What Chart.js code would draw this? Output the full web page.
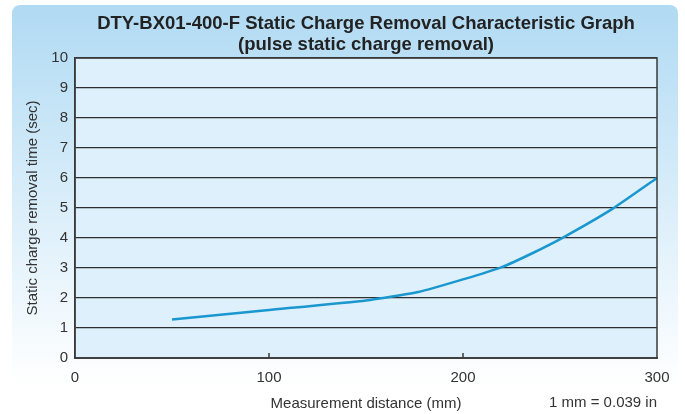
<!DOCTYPE html>
<html>
<head>
<meta charset="utf-8">
<script src="https://cdn.jsdelivr.net/npm/chart.js@4"></script>
<style>
  html, body { margin: 0; padding: 0; background: #fff; }
  #wrap { width: 685px; height: 414px; }
</style>
</head>
<body>
<div id="wrap"><canvas id="myChartLine" width="685" height="414"></canvas></div>
<script>
// values
let distance = [50, 100, 150, 177, 200, 220, 236, 252, 277, 300];
let removalTime = [1.28, 1.6, 1.92, 2.2, 2.62, 3.03, 3.5, 4.03, 4.97, 6.0];
let xTicks = [0, 100, 200, 300];
let yTicks = [0, 1, 2, 3, 4, 5, 6, 7, 8, 9, 10];
let titleLines = ["DTY-BX01-400-F Static Charge Removal Characteristic Graph", "(pulse static charge removal)"];

let points = distance.map((d, i) => ({ x: d, y: removalTime[i] }));
const FONT = "'Liberation Sans', Arial, sans-serif";

// blue panel behind the chart, plot fill, border, small inner ticks and texts
const panel = {
  id: "panel",
  beforeDraw(chart) {
    let c = chart.ctx, a = chart.chartArea;
    c.save();
    let g = c.createLinearGradient(0, 5, 0, 385);
    g.addColorStop(0, "#b0daf3");
    g.addColorStop(0.45, "#d4ebf9");
    g.addColorStop(1, "#ffffff");
    c.fillStyle = g;
    c.beginPath();
    c.roundRect(12, 5, 666, 409, 8);
    c.fill();
    c.fillStyle = "#def0fb";
    c.fillRect(a.left, a.top, a.right - a.left, a.bottom - a.top);
    c.restore();
  },
  afterDraw(chart) {
    let c = chart.ctx, a = chart.chartArea, xs = chart.scales.x;
    c.save();
    c.strokeStyle = "#3a3a3a";
    c.lineWidth = 1.5;
    c.strokeRect(a.left, a.top, a.right - a.left, a.bottom - a.top);
    [100, 200].forEach(v => {
      let px = xs.getPixelForValue(v);
      c.beginPath();
      c.moveTo(px, a.bottom);
      c.lineTo(px, a.bottom - 5);
      c.stroke();
    });
    c.fillStyle = "#333";
    c.font = "15px " + FONT;
    c.textAlign = "right";
    c.textBaseline = "middle";
    c.fillText("1 mm = 0.039 in", a.right, 403);
    c.fillStyle = "#222";
    c.font = "bold 18.5px " + FONT;
    c.textAlign = "center";
    let cx = (a.left + a.right) / 2;
    c.fillText(titleLines[0], cx, 24);
    c.fillText(titleLines[1], cx, 45);
    c.restore();
  }
};

new Chart(document.getElementById("myChartLine"), {
  type: "scatter",
  data: {
    datasets: [{
      data: points,
      showLine: true,
      borderColor: "#1b97d0",
      borderWidth: 2.5,
      pointRadius: 0,
      tension: 0.15,
      fill: false
    }]
  },
  options: {
    responsive: false,
    animation: false,
    layout: { padding: { left: 24, right: 28, top: 58, bottom: 0 } },
    plugins: {
      legend: { display: false },
      tooltip: { enabled: false },
      title: { display: false }
    },
    scales: {
      x: {
        type: "linear",
        min: 0,
        max: 300,
        afterBuildTicks: s => { s.ticks = xTicks.map(v => ({ value: v })); },
        afterFit: s => { s.height = 56; },
        grid: { display: false },
        border: { display: true, color: "#555", width: 2 },
        ticks: { color: "#333", padding: 3, font: { family: FONT, size: 15 } },
        title: {
          display: true,
          text: "Measurement distance (mm)",
          color: "#333",
          padding: { top: 0, bottom: 1 },
          font: { family: FONT, size: 15 }
        }
      },
      y: {
        min: 0,
        max: 10,
        afterBuildTicks: s => { s.ticks = yTicks.map(v => ({ value: v })); },
        afterFit: s => { s.width = 51; },
        grid: { color: "#2e2e2e", lineWidth: 1.2, drawTicks: false },
        border: { display: true, color: "#3a3a3a", width: 1.5 },
        ticks: { color: "#333", padding: 7, font: { family: FONT, size: 15 } },
        title: {
          display: true,
          text: "Static charge removal time (sec)",
          color: "#333",
          padding: 0,
          font: { family: FONT, size: 15 }
        }
      }
    }
  },
  plugins: [panel]
});
</script>
</body>
</html>
